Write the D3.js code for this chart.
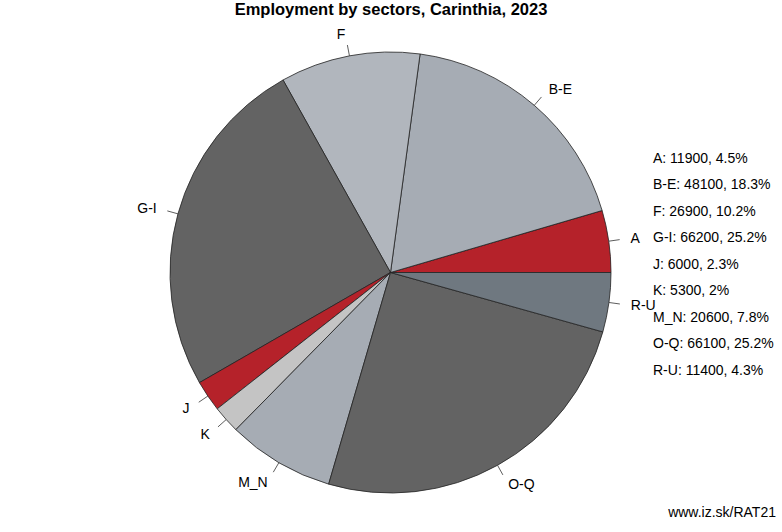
<!DOCTYPE html>
<html>
<head>
<meta charset="utf-8">
<script src="https://cdn.jsdelivr.net/npm/d3@7"></script>
<style>
  body { margin: 0; background: #fff; }
  text { font-family: "Liberation Sans", Arial, sans-serif; fill: #000; }
</style>
</head>
<body>
<div id="chart"></div>
<script>
var sectors = ['A', 'B-E', 'F', 'G-I', 'J', 'K', 'M_N', 'O-Q', 'R-U'];
var employed = [11900, 48100, 26900, 66200, 6000, 5300, 20600, 66100, 11400];
var shares = ['4.5%', '18.3%', '10.2%', '25.2%', '2.3%', '2%', '7.8%', '25.2%', '4.3%'];
var sliceColors = ['#b5222a', '#a6acb4', '#b1b6bd', '#636363', '#b5222a', '#c4c4c4', '#a6acb4', '#636363', '#6f7880'];

var width = 782, height = 532;
var cx = 390.5, cy = 272.5, radius = 220.5;

var svg = d3.select('#chart').append('svg')
  .attr('width', width).attr('height', height);

svg.append('text')
  .attr('x', 391).attr('y', 15)
  .attr('text-anchor', 'middle')
  .style('font-weight', 'bold').style('font-size', '16.5px')
  .text('Employment by sectors, Carinthia, 2023');

// counterclockwise from 3 o'clock, like R's pie()
var pie = d3.pie().sort(null)
  .startAngle(Math.PI / 2).endAngle(Math.PI / 2 - 2 * Math.PI);
var arcs = pie(employed);
var arc = d3.arc().innerRadius(0).outerRadius(radius);

var g = svg.append('g').attr('transform', 'translate(' + cx + ',' + cy + ')');

g.selectAll('path.slice').data(arcs).enter().append('path')
  .attr('class', 'slice')
  .attr('d', arc)
  .attr('fill', function(d, i) { return sliceColors[i]; })
  .attr('stroke', '#222').attr('stroke-width', 0.8);

function mid(d) { return (d.startAngle + d.endAngle) / 2; }

g.selectAll('line.tick').data(arcs).enter().append('line')
  .attr('x1', function(d) { return radius * Math.sin(mid(d)); })
  .attr('y1', function(d) { return -radius * Math.cos(mid(d)); })
  .attr('x2', function(d) { return 1.05 * radius * Math.sin(mid(d)); })
  .attr('y2', function(d) { return -1.05 * radius * Math.cos(mid(d)); })
  .attr('stroke', '#333').attr('stroke-width', 0.8);

g.selectAll('text.lbl').data(arcs).enter().append('text')
  .attr('x', function(d) { return 1.1 * radius * Math.sin(mid(d)); })
  .attr('y', function(d) { return -1.1 * radius * Math.cos(mid(d)); })
  .attr('dy', '0.35em')
  .attr('text-anchor', function(d) { return Math.sin(mid(d)) < 0 ? 'end' : 'start'; })
  .style('font-size', '14px')
  .text(function(d, i) { return sectors[i]; });

// legend list on the right
var rowY = d3.scalePoint().domain(sectors).range([158, 370]);
svg.selectAll('text.legend').data(sectors).enter().append('text')
  .attr('x', 653)
  .attr('y', function(d) { return rowY(d); })
  .attr('dy', '0.35em')
  .style('font-size', '14px')
  .text(function(d, i) { return d + ': ' + employed[i] + ', ' + shares[i]; });

svg.append('text')
  .attr('x', 776).attr('y', 517)
  .attr('text-anchor', 'end')
  .style('font-size', '14px')
  .text('www.iz.sk/RAT21');
</script>
</body>
</html>
